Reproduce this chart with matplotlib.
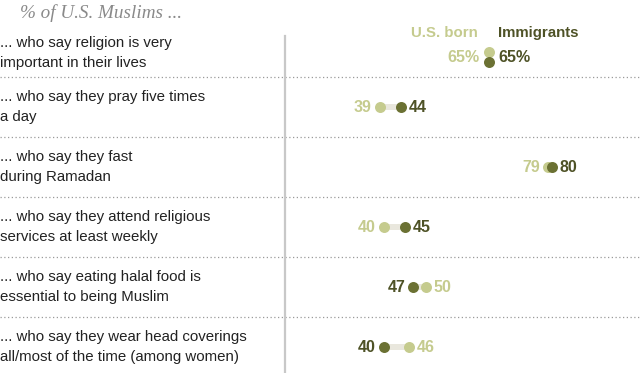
import matplotlib
matplotlib.use("Agg")
import matplotlib.pyplot as plt
import matplotlib.transforms as mtransforms
import numpy as np

title = "% of U.S. Muslims ..."
categories = [
    "... who say religion is very\nimportant in their lives",
    "... who say they pray five times\na day",
    "... who say they fast\nduring Ramadan",
    "... who say they attend religious\nservices at least weekly",
    "... who say eating halal food is\nessential to being Muslim",
    "... who say they wear head coverings\nall/most of the time (among women)",
]
us_born = [65, 39, 79, 40, 50, 46]
immigrants = [65, 44, 80, 45, 47, 40]
series_names = ["U.S. born", "Immigrants"]

LIGHT = "#c5cb8e"
DARK_DOT = "#6b7133"
DARK_TXT = "#4e5226"
CONN = "#e9e7dd"
FONT = "Liberation Sans"

W, H = 640, 373
fig = plt.figure(figsize=(W / 100, H / 100), dpi=100)
ax = fig.add_axes([0, 0, 1, 1])
ax.axis("off")

# pixel mapping helpers -> axis limits
x0_px, px_per_unit = 216, 4.2
ax.set_xlim(-x0_px / px_per_unit, (W - x0_px) / px_per_unit)
y0_px, row_px = 47, 60
ax.set_ylim((H - y0_px) / row_px, -y0_px / row_px)

n = len(categories)
rows = np.arange(n, dtype=float)
blend = mtransforms.blended_transform_factory(ax.transAxes, ax.transData)
pt = lambda p: p * 72 / 100  # px -> points

# separators
for i in range(n - 1):
    ax.axhline(i + 0.5, color="#9a9a9a", lw=0.9, linestyle=(0, (1, 2)), zorder=1)

# vertical axis line
ax.plot([285 / W, 285 / W], [-0.18, (H - y0_px) / row_px], transform=blend,
        color="#c8c8c8", lw=1.6, zorder=2, clip_on=False)

# title
fig.text(20 / W, 1 - 13 / H, title, ha="left", va="center", fontsize=13.8,
         family="Liberation Serif", style="italic", color="#8a8a8a")

NUM_FS = 11.5
for i, (cat, u, m) in enumerate(zip(categories, us_born, immigrants)):
    y = rows[i]
    lab_y = y + (0.1 if i == 0 else 0)
    ax.text(0.0, lab_y, cat, transform=blend, ha="left", va="center",
            fontsize=10.8, family=FONT, color="#222222", linespacing=1.55)
    if u == m:
        yu, ym, yt = y + 0.083, y + 0.25, y + 0.183
        ax.plot([u], [yu], "o", ms=pt(11), color=LIGHT, mec="none", zorder=4)
        ax.plot([m], [ym], "o", ms=pt(11), color=DARK_DOT, mec="none", zorder=5)
        ax.annotate(f"{u}%", (u, yt), xytext=(-pt(9), 0), textcoords="offset points",
                    ha="right", va="center", fontsize=NUM_FS, fontweight="bold",
                    family=FONT, color=LIGHT)
        ax.annotate(f"{m}%", (m, yt), xytext=(pt(9), 0), textcoords="offset points",
                    ha="left", va="center", fontsize=NUM_FS, fontweight="bold",
                    family=FONT, color=DARK_TXT)
        # series header
        ax.annotate(series_names[0], (u, y - 0.23), xytext=(-pt(11), 0),
                    textcoords="offset points", ha="right", va="center",
                    fontsize=10.8, fontweight="bold", family=FONT, color=LIGHT)
        ax.annotate(series_names[1], (m, y - 0.23), xytext=(pt(9), 0),
                    textcoords="offset points", ha="left", va="center",
                    fontsize=10.8, fontweight="bold", family=FONT, color=DARK_TXT)
        continue
    ax.plot([u, m], [y, y], color=CONN, lw=pt(6), solid_capstyle="butt", zorder=3)
    ax.plot([u], [y], "o", ms=pt(11), color=LIGHT, mec="none", zorder=4)
    ax.plot([m], [y], "o", ms=pt(11), color=DARK_DOT, mec="none", zorder=5)
    for val, col in ((u, LIGHT), (m, DARK_TXT)):
        left = val == min(u, m)
        ax.annotate(f"{val}", (val, y), xytext=(-pt(8) if left else pt(8), 0),
                    textcoords="offset points", ha="right" if left else "left",
                    va="center", fontsize=NUM_FS, fontweight="bold", family=FONT,
                    color=col)

fig.savefig("out.png", dpi=100)
